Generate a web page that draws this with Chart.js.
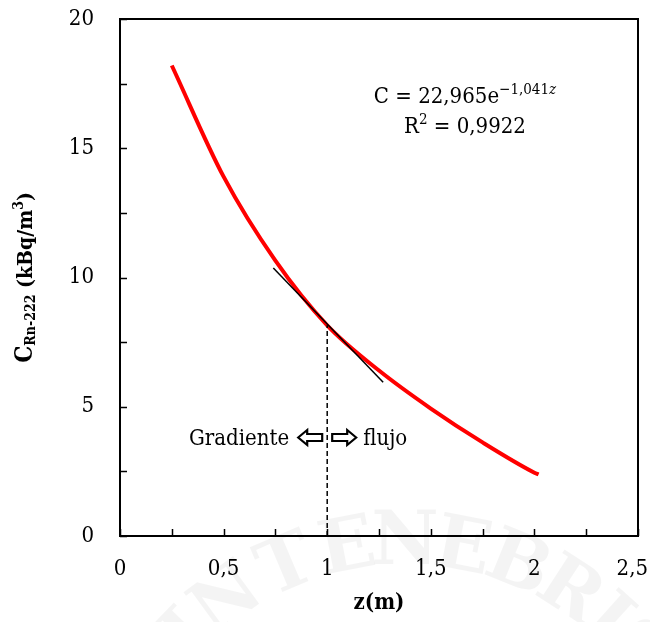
<!DOCTYPE html>
<html>
<head>
<meta charset="utf-8">
<script src="https://cdn.jsdelivr.net/npm/chart.js@4.4.1/dist/chart.umd.min.js"></script>
<style>
  html, body { margin: 0; padding: 0; background: #ffffff; }
  #wrap { width: 650px; height: 622px; position: relative; }
</style>
</head>
<body>
<div id="wrap"><canvas id="c" width="650" height="622"></canvas></div>
<script>
// ---- data ----
const zValues = [0.25, 0.5, 0.75, 1.0, 1.25, 1.5, 1.75, 2.0, 2.02];      // depth z (m)
const cValues = [18.2, 13.9, 10.65, 8.15, 6.4, 4.93, 3.62, 2.45, 2.38];  // C Rn-222 (kBq/m3)
const tangentZ = [0.74, 1.27];
const tangentC = [10.37, 5.95];
const dropZ = [1.0, 1.0];
const dropC = [0, 8.15];
const xTickLabels = ['0', '0,5', '1', '1,5', '2', '2,5'];
const yTickLabels = ['0', '5', '10', '15', '20'];
const equationText = ['C = 22,965e', '\u22121,041', 'z'];
const r2Text = ['R', '2', ' = 0,9922'];
const gradText = ['Gradiente', 'flujo'];
const yTitleParts = ['C', 'Rn-222', ' (kBq/m', '3', ')'];
const xTitleText = 'z(m)';
const watermarkText = 'IN TENEBRIS';

const SERIF = '"DejaVu Serif Condensed", "Liberation Serif", serif';

function toPts(xs, ys) { return xs.map((v, i) => ({ x: v, y: ys[i] })); }

const frame = {
  id: 'frame',
  beforeDraw(chart) {
    const ctx = chart.ctx;
    ctx.save();
    ctx.fillStyle = 'rgba(0,0,0,0.045)';
    ctx.font = 'bold 74px "DejaVu Serif", serif';
    ctx.textAlign = 'center';
    ctx.textBaseline = 'middle';
    const cx = 405, cy = 845, r = 300;
    const letters = watermarkText.split('');
    const angles = [-46, -36, -30, -23, -11, 0, 11, 22, 33, 42, 50];
    letters.forEach((ch, i) => {
      if (ch === ' ') return;
      const a = angles[i] * Math.PI / 180;
      ctx.save();
      ctx.translate(cx + r * Math.sin(a), cy - r * Math.cos(a));
      ctx.rotate(a);
      ctx.fillText(ch, 0, 0);
      ctx.restore();
    });
    ctx.restore();
  },
  afterDatasetsDraw(chart) {
    const { ctx, chartArea: a, scales: { x, y } } = chart;
    ctx.save();
    ctx.strokeStyle = '#000';
    ctx.lineWidth = 1.5;
    ctx.beginPath();
    x.ticks.forEach(t => {
      const px = Math.round(x.getPixelForValue(t.value)) + 0.5;
      ctx.moveTo(px, a.bottom); ctx.lineTo(px, a.bottom - 7);
    });
    y.ticks.forEach(t => {
      const py = Math.round(y.getPixelForValue(t.value)) + 0.5;
      ctx.moveTo(a.left, py); ctx.lineTo(a.left + 7, py);
    });
    ctx.stroke();
    ctx.lineWidth = 2;
    ctx.strokeRect(a.left, a.top, a.right - a.left, a.bottom - a.top);
    ctx.restore();
  },
  afterDraw(chart) {
    const { ctx, chartArea: a, scales: { x, y } } = chart;
    ctx.save();
    ctx.fillStyle = '#000';
    ctx.textBaseline = 'alphabetic';

    // x tick labels (drawn at the scale's tick positions; last one kept inside the canvas)
    ctx.font = '22px ' + SERIF;
    ctx.textAlign = 'center';
    x.ticks.forEach(t => {
      const k = Math.round(t.value / 0.5);
      if (Math.abs(t.value / 0.5 - k) > 1e-6) return;
      const lab = xTickLabels[k];
      const w = ctx.measureText(lab).width;
      let px = x.getPixelForValue(t.value);
      if (px + w / 2 > chart.width - 2) px = chart.width - 2 - w / 2;
      ctx.fillText(lab, px, 575);
    });

    ctx.textAlign = 'left';
    // Equation
    const big = '22px ' + SERIF, small = '15px ' + SERIF, smallIt = 'italic 15px ' + SERIF;
    ctx.font = big; const w1 = ctx.measureText(equationText[0]).width;
    ctx.font = small; const w2 = ctx.measureText(equationText[1]).width;
    ctx.font = smallIt; const w3 = ctx.measureText(equationText[2]).width;
    const cxEq = 465;
    let sx = cxEq - (w1 + w2 + w3) / 2;
    const yEq = 103;
    ctx.font = big; ctx.fillText(equationText[0], sx, yEq);
    ctx.font = small; ctx.fillText(equationText[1], sx + w1, yEq - 9);
    ctx.font = smallIt; ctx.fillText(equationText[2], sx + w1 + w2, yEq - 9);

    ctx.font = big; const r1 = ctx.measureText(r2Text[0]).width;
    ctx.font = small; const r2w = ctx.measureText(r2Text[1]).width;
    ctx.font = big; const r3 = ctx.measureText(r2Text[2]).width;
    sx = cxEq - (r1 + r2w + r3) / 2;
    const yR = 133;
    ctx.font = big; ctx.fillText(r2Text[0], sx, yR);
    ctx.font = small; ctx.fillText(r2Text[1], sx + r1, yR - 9);
    ctx.font = big; ctx.fillText(r2Text[2], sx + r1 + r2w, yR);

    // Gradiente <= => flujo
    const xc = x.getPixelForValue(1.0);
    const yb = 445, ym = 437.5;
    ctx.font = big;
    ctx.textAlign = 'right';
    ctx.fillText(gradText[0], xc - 38, yb);
    ctx.textAlign = 'left';
    ctx.fillText(gradText[1], xc + 36, yb);
    ctx.lineWidth = 2.2;
    ctx.lineJoin = 'miter';
    ctx.strokeStyle = '#000';
    ctx.fillStyle = '#fff';
    function arrow(dir, tipX, tailX) {
      const hx = tipX + dir * 9;
      ctx.beginPath();
      ctx.moveTo(tipX, ym);
      ctx.lineTo(hx, ym - 7.5);
      ctx.lineTo(hx, ym - 3.5);
      ctx.lineTo(tailX, ym - 3.5);
      ctx.lineTo(tailX, ym + 3.5);
      ctx.lineTo(hx, ym + 3.5);
      ctx.lineTo(hx, ym + 7.5);
      ctx.closePath();
      ctx.fill(); ctx.stroke();
    }
    arrow(1, xc - 29, xc - 5);
    arrow(-1, xc + 29, xc + 5);
    ctx.fillStyle = '#000';

    // x title
    ctx.font = 'bold 22px ' + SERIF;
    ctx.textAlign = 'center';
    ctx.fillText(xTitleText, (a.left + a.right) / 2, 609);

    // y title
    const fMain = 'bold 21px ' + SERIF, fSub = 'bold 14px ' + SERIF;
    const parts = [
      { t: yTitleParts[0], f: 'bold 24px ' + SERIF, dy: 0 },
      { t: yTitleParts[1], f: fSub, dy: 3 },
      { t: yTitleParts[2], f: fMain, dy: 0 },
      { t: yTitleParts[3], f: fSub, dy: -9 },
      { t: yTitleParts[4], f: fMain, dy: 0 }
    ];
    let total = 0;
    parts.forEach(p => { ctx.font = p.f; p.w = ctx.measureText(p.t).width; total += p.w; });
    ctx.translate(32, (a.top + a.bottom) / 2);
    ctx.rotate(-Math.PI / 2);
    ctx.textAlign = 'left';
    let px = -total / 2;
    parts.forEach(p => { ctx.font = p.f; ctx.fillText(p.t, px, p.dy); px += p.w; });
    ctx.restore();
  }
};

new Chart(document.getElementById('c'), {
  type: 'scatter',
  data: {
    datasets: [
      { data: toPts(tangentZ, tangentC), showLine: true, borderColor: '#000', borderWidth: 1.5, pointRadius: 0 },
      { data: toPts(dropZ, dropC), showLine: true, borderColor: '#000', borderWidth: 1.5, borderDash: [5, 3], pointRadius: 0 },
      { data: toPts(zValues, cValues), showLine: true, borderColor: '#ff0000', borderWidth: 4, pointRadius: 0, cubicInterpolationMode: 'monotone' }
    ]
  },
  options: {
    responsive: false,
    animation: false,
    events: [],
    layout: { padding: { top: 19, right: 12, left: 0, bottom: 0 } },
    plugins: { legend: { display: false }, tooltip: { enabled: false } },
    scales: {
      x: {
        type: 'linear', min: 0, max: 2.5,
        grid: { display: false, drawTicks: false },
        border: { display: false },
        afterFit(s) { s.height = 86; s.paddingLeft = 0; s.paddingRight = 0; },
        ticks: {
          display: false,
          stepSize: 0.25, autoSkip: false, maxRotation: 0
        }
      },
      y: {
        type: 'linear', min: 0, max: 20,
        grid: { display: false, drawTicks: false },
        border: { display: false },
        afterFit(s) { s.width = 120; s.paddingTop = 0; s.paddingBottom = 0; },
        ticks: {
          stepSize: 2.5, autoSkip: false, padding: 26,
          color: '#000', font: { family: SERIF, size: 22 },
          callback(v) {
            const k = Math.round(v / 5);
            return Math.abs(v / 5 - k) < 1e-6 ? yTickLabels[k] : '';
          }
        }
      }
    }
  },
  plugins: [frame]
});
</script>
</body>
</html>
